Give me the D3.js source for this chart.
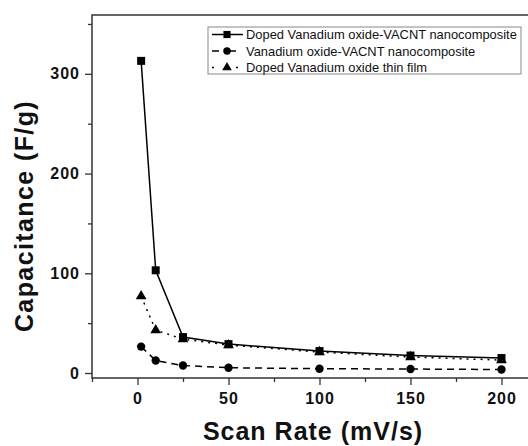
<!DOCTYPE html>
<html>
<head>
<meta charset="utf-8">
<script src="https://cdn.jsdelivr.net/npm/d3@7"></script>
<style>
  body { margin: 0; background: #fff; }
  svg { display: block; font-family: "Liberation Sans", Arial, sans-serif; }
</style>
</head>
<body>
<div id="chart"></div>
<script>
/* capacitance vs scan rate */

const scanRate = [2, 10, 25, 50, 100, 150, 200];
const dopedVacnt = [313, 103, 36, 29, 22, 17.5, 15];
const vacnt = [26.5, 12.5, 7.5, 5.3, 4.3, 4, 3.5];
const dopedFilm = [77, 43, 34, 28, 21, 16, 13];
const seriesNames = ["Doped Vanadium oxide-VACNT nanocomposite",
                     "Vanadium oxide-VACNT nanocomposite",
                     "Doped Vanadium oxide thin film"];
const xTicks = [0, 50, 100, 150, 200];
const yTicks = [0, 100, 200, 300];

const width = 528,
      height = 446,
      margin = ({top: 15, right: -19, bottom: 68, left: 92});

let svg = d3.select("#chart")
    .append("svg")
    .attr("width", width)
    .attr("height", height);

let x = d3.scaleLinear()
    .domain([-25, 225])
    .range([margin.left, width - margin.right]);

let y = d3.scaleLinear()
    .domain([-5, 359])
    .range([height - margin.bottom, margin.top]);

// frame
svg.append("rect")
    .attr("x", margin.left)
    .attr("y", margin.top)
    .attr("width", x(225) - margin.left)
    .attr("height", y(-5) - margin.top)
    .attr("fill", "none")
    .attr("stroke", "#333")
    .attr("stroke-width", 1.5);

// axes
let xAxis = svg.append("g")
    .attr("transform", `translate(0,${y(-5)})`)
    .call(d3.axisBottom(x).tickValues(xTicks).tickSize(7).tickPadding(5).tickFormat(d3.format("d")));
let xMinor = svg.append("g")
    .attr("transform", `translate(0,${y(-5)})`)
    .call(d3.axisBottom(x).tickValues([-25, 25, 75, 125, 175]).tickSize(4).tickFormat(""));

let yAxis = svg.append("g")
    .attr("transform", `translate(${margin.left},0)`)
    .call(d3.axisLeft(y).tickValues(yTicks).tickSize(7).tickPadding(5));
let yMinor = svg.append("g")
    .attr("transform", `translate(${margin.left},0)`)
    .call(d3.axisLeft(y).tickValues([50, 150, 250, 350]).tickSize(4).tickFormat(""));

for (let g of [xAxis, xMinor, yAxis, yMinor]) {
    g.select(".domain").remove();
    g.selectAll("line").attr("stroke", "#333").attr("stroke-width", 1.3);
    g.selectAll("text")
        .attr("fill", "#111")
        .style("font-size", "16px")
        .style("font-weight", "bold")
        .style("letter-spacing", "1px");
}
xAxis.selectAll("text").attr("dy", "0.85em");

// axis titles
svg.append("text")
    .attr("x", 313)
    .attr("y", 440)
    .attr("text-anchor", "middle")
    .style("font-size", "25px")
    .style("font-weight", "bold")
    .style("letter-spacing", "1px")
    .attr("fill", "#111")
    .text("Scan Rate (mV/s)");

svg.append("text")
    .attr("transform", "translate(33,216) rotate(-90)")
    .attr("text-anchor", "middle")
    .style("font-size", "25px")
    .style("font-weight", "bold")
    .style("letter-spacing", "1.4px")
    .attr("fill", "#111")
    .text("Capacitance (F/g)");

const series = [
    {name: seriesNames[0], values: dopedVacnt, dash: null, symbol: d3.symbolSquare, size: 64},
    {name: seriesNames[1], values: vacnt, dash: "7,5", symbol: d3.symbolCircle, size: 55},
    {name: seriesNames[2], values: dopedFilm, dash: "2,5", symbol: d3.symbolTriangle, size: 50}
];

let line = d3.line()
    .x(d => x(d[0]))
    .y(d => y(d[1]));

// draw thin film first so the squares sit on top
for (let s of series.slice().reverse()) {
    let pts = scanRate.map((r, i) => [r, s.values[i]]);
    svg.append("path")
        .datum(pts)
        .attr("d", line)
        .attr("fill", "none")
        .attr("stroke", "#000")
        .attr("stroke-width", 1.5)
        .attr("stroke-dasharray", s.dash);
    svg.selectAll(null)
        .data(pts)
        .join("path")
        .attr("d", d3.symbol().type(s.symbol).size(s.size))
        .attr("transform", d => `translate(${x(d[0])},${y(d[1])})`)
        .attr("fill", "#000");
}

// legend
let legend = svg.append("g").attr("transform", "translate(208,27)");
legend.append("rect")
    .attr("width", 313)
    .attr("height", 47)
    .attr("fill", "#fff")
    .attr("stroke", "#888")
    .attr("stroke-width", 1);

let item = legend.selectAll(".item")
    .data(series)
    .join("g")
    .attr("class", "item")
    .attr("transform", (d, i) => `translate(0,${7.5 + i * 16.5})`);

item.append("line")
    .attr("x1", 4)
    .attr("x2", 35)
    .attr("stroke", "#000")
    .attr("stroke-width", 1.5)
    .attr("stroke-dasharray", d => d.dash ? (d.dash == "2,5" ? "2,10" : "7,10") : null);

item.append("path")
    .attr("d", d => d3.symbol().type(d.symbol).size(d.size * 0.8)())
    .attr("transform", "translate(19,0)")
    .attr("fill", "#000");

item.append("text")
    .attr("x", 38)
    .attr("dy", "0.35em")
    .style("font-size", "12.9px")
    .attr("fill", "#111")
    .text(d => d.name);
</script>
</body>
</html>
